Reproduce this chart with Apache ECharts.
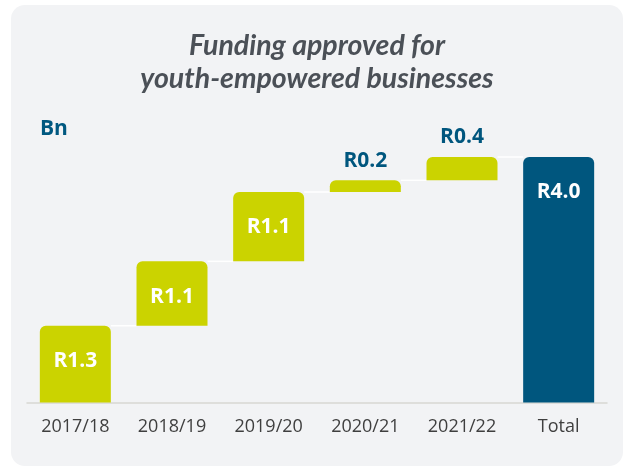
<!DOCTYPE html>
<html lang="en">

<head>
    <meta charset="UTF-8">
    <title>Funding approved for youth-empowered businesses</title>
    <style type="text/css">
        html, body { margin: 0; padding: 0; background: #ffffff; }
        #card {
            position: absolute; left: 11px; top: 5px;
            width: 612px; height: 461px;
            background: #f2f3f5; border-radius: 14px;
        }
        #main { width: 612px; height: 461px; }
    </style>
</head>

<body>
    <div id="card"><div id="main"></div></div>
    <script type="text/javascript" src="https://cdn.jsdelivr.net/npm/echarts@6/dist/echarts.min.js"></script>
    <script type="text/javascript">
    // 各年度数据 (单位: R bn)
    var categories = ['2017/18', '2018/19', '2019/20', '2020/21', '2021/22', 'Total'];
    var yearValues = [1.25, 1.05, 1.13, 0.19, 0.38];
    var totalValue = 4.0;
    var valueLabels = ['R1.3', 'R1.1', 'R1.1', 'R0.2', 'R0.4', 'R4.0'];

    var green = '#cbd300';
    var blue = '#00567e';

    // 瀑布图: 透明底座 + 可见柱
    var baseData = [];
    var levels = [];
    var running = 0;
    for (var i = 0; i < yearValues.length; i++) {
        baseData.push(running);
        running += yearValues[i];
        levels.push([i, running]);
    }
    baseData.push(0);

    var barData = [];
    for (var j = 0; j < categories.length; j++) {
        var isTotal = j == categories.length - 1;
        var v = isTotal ? totalValue : yearValues[j];
        var small = v < 0.5;
        barData.push({
            value: v,
            itemStyle: { color: isTotal ? blue : green },
            label: small ? {
                position: 'top', distance: 9, color: blue
            } : {
                position: 'insideTop', distance: 25, color: '#ffffff'
            }
        });
    }

    var myChart = echarts.init(document.getElementById('main'));
    var option = {
        animation: false,
        title: [{
            text: 'Funding approved for\nyouth-empowered businesses',
            left: 'center',
            top: 19,
            textStyle: {
                fontFamily: 'Lato',
                fontStyle: 'italic',
                fontWeight: 'bold',
                fontSize: 28.5,
                lineHeight: 33,
                color: '#4b5057'
            }
        }, {
            text: 'Bn',
            left: 24,
            top: 109,
            textStyle: {
                fontFamily: 'Open Sans',
                fontWeight: 'bold',
                fontSize: 21,
                color: '#005880'
            }
        }],
        grid: { left: 16, right: 16, top: 152, bottom: 63.5 },
        xAxis: {
            type: 'category',
            data: categories,
            axisLine: { lineStyle: { color: '#d8d8d2', width: 1.5 } },
            axisTick: { show: false },
            axisLabel: {
                color: '#3f3f3f',
                fontFamily: 'Open Sans',
                fontSize: 18,
                margin: 15
            }
        },
        yAxis: {
            type: 'value',
            min: 0,
            max: 4,
            show: false
        },
        series: [{
            type: 'bar',
            stack: 'w',
            barWidth: 71,
            data: baseData,
            itemStyle: { color: 'transparent' },
            silent: true
        }, {
            type: 'bar',
            stack: 'w',
            barWidth: 71,
            data: barData,
            itemStyle: { borderRadius: [6, 6, 0, 0] },
            label: {
                show: true,
                fontFamily: 'Open Sans',
                fontWeight: 'bold',
                fontSize: 21,
                formatter: function(p) { return valueLabels[p.dataIndex]; }
            }
        }, {
            // 连接线
            type: 'custom',
            data: levels,
            z: 1,
            renderItem: function(params, api) {
                var idx = api.value(0);
                var level = api.value(1);
                var half = 71 / 2;
                var p1 = api.coord([idx, level]);
                var p2 = api.coord([idx + 1, level]);
                return {
                    type: 'line',
                    shape: { x1: p1[0] + half, y1: p1[1], x2: p2[0] - half, y2: p2[1] },
                    style: { stroke: '#ffffff', lineWidth: 1.5 }
                };
            }
        }]
    };
    myChart.setOption(option);
    </script>
</body>

</html>
